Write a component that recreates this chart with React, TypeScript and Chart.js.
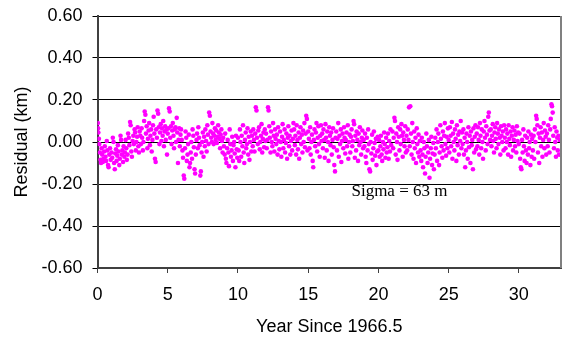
import { useEffect, useRef } from "react";
import { Chart, registerables } from "chart.js";

Chart.register(...registerables);

// Axis ticks and captions
const xTickValues = [0, 5, 10, 15, 20, 25, 30];
const yTickValues = [-0.6, -0.4, -0.2, 0, 0.2, 0.4, 0.6];
const xTitle = "Year Since 1966.5";
const yTitle = "Residual (km)";
const sigmaNote = "Sigma = 63 m";
const sigmaNoteAt = { x: 21.5, y: -0.238 };

// Observation epochs (years since 1966.5)
const sampleYears = [
  0.02, 0.04, 0.06, 0.1, 0.13, 0.17, 0.21, 0.25, 0.29, 0.33, 0.38, 0.42, 0.47, 0.52, 0.57, 0.61, 0.66, 0.7, 0.75, 0.79, 0.84, 0.89, 0.94,
  1, 1.05, 1.09, 1.14, 1.18, 1.23, 1.27, 1.32, 1.36, 1.41, 1.45, 1.5, 1.55, 1.59, 1.64, 1.68, 1.73, 1.77, 1.82, 1.86, 1.91, 1.95,
  2, 2.05, 2.09, 2.14, 2.18, 2.23, 2.27, 2.32, 2.36, 2.41, 2.45, 2.5, 2.55, 2.59, 2.64, 2.68, 2.73, 2.77, 2.82, 2.86, 2.91, 2.95,
  3, 3.05, 3.09, 3.14, 3.18, 3.23, 3.27, 3.32, 3.36, 3.41, 3.45, 3.5, 3.55, 3.59, 3.64, 3.68, 3.73, 3.77, 3.82, 3.86, 3.91, 3.95,
  4, 4.05, 4.09, 4.14, 4.18, 4.23, 4.27, 4.32, 4.36, 4.41, 4.45, 4.5, 4.55, 4.59, 4.64, 4.68, 4.73, 4.77, 4.82, 4.86, 4.91, 4.95,
  5, 5.05, 5.09, 5.14, 5.18, 5.23, 5.27, 5.32, 5.36, 5.41, 5.45, 5.5, 5.55, 5.59, 5.64, 5.68, 5.73, 5.77, 5.82, 5.86, 5.91, 5.95,
  6, 6.05, 6.09, 6.14, 6.18, 6.23, 6.27, 6.32, 6.36, 6.41, 6.45, 6.5, 6.55, 6.59, 6.64, 6.68, 6.73, 6.77, 6.82, 6.86, 6.91, 6.95,
  7, 7.05, 7.09, 7.14, 7.18, 7.23, 7.27, 7.32, 7.36, 7.41, 7.45, 7.5, 7.55, 7.59, 7.64, 7.68, 7.73, 7.77, 7.82, 7.86, 7.91, 7.95,
  8, 8.05, 8.09, 8.14, 8.18, 8.23, 8.27, 8.32, 8.36, 8.41, 8.45, 8.5, 8.55, 8.59, 8.64, 8.68, 8.73, 8.77, 8.82, 8.86, 8.91, 8.95,
  9, 9.05, 9.09, 9.14, 9.18, 9.23, 9.27, 9.32, 9.36, 9.41, 9.45, 9.5, 9.55, 9.59, 9.64, 9.68, 9.73, 9.77, 9.82, 9.86, 9.91, 9.95,
  10, 10.05, 10.09, 10.14, 10.18, 10.23, 10.27, 10.32, 10.36, 10.41, 10.45, 10.5, 10.55, 10.59, 10.64, 10.68, 10.73, 10.77, 10.82, 10.86, 10.91, 10.95,
  11, 11.05, 11.09, 11.14, 11.18, 11.23, 11.27, 11.32, 11.36, 11.41, 11.45, 11.5, 11.55, 11.59, 11.64, 11.68, 11.73, 11.77, 11.82, 11.86, 11.91, 11.95,
  12, 12.05, 12.09, 12.14, 12.18, 12.23, 12.27, 12.32, 12.36, 12.41, 12.45, 12.5, 12.55, 12.59, 12.64, 12.68, 12.73, 12.77, 12.82, 12.86, 12.91, 12.95,
  13, 13.05, 13.09, 13.14, 13.18, 13.23, 13.27, 13.32, 13.36, 13.41, 13.45, 13.5, 13.55, 13.59, 13.64, 13.68, 13.73, 13.77, 13.82, 13.86, 13.91, 13.95,
  14, 14.05, 14.09, 14.14, 14.18, 14.23, 14.27, 14.32, 14.36, 14.41, 14.45, 14.5, 14.55, 14.59, 14.64, 14.68, 14.73, 14.77, 14.82, 14.86, 14.91, 14.95,
  15, 15.05, 15.09, 15.14, 15.18, 15.23, 15.27, 15.32, 15.36, 15.41, 15.45, 15.5, 15.55, 15.59, 15.64, 15.68, 15.73, 15.77, 15.82, 15.86, 15.91, 15.95,
  16, 16.05, 16.09, 16.14, 16.18, 16.23, 16.27, 16.32, 16.36, 16.41, 16.45, 16.5, 16.55, 16.59, 16.64, 16.68, 16.73, 16.77, 16.82, 16.86, 16.91, 16.95,
  17, 17.05, 17.09, 17.14, 17.18, 17.23, 17.27, 17.32, 17.36, 17.41, 17.45, 17.5, 17.55, 17.59, 17.64, 17.68, 17.73, 17.77, 17.82, 17.86, 17.91, 17.95,
  18, 18.05, 18.09, 18.14, 18.18, 18.23, 18.27, 18.32, 18.36, 18.41, 18.45, 18.5, 18.55, 18.59, 18.64, 18.68, 18.73, 18.77, 18.82, 18.86, 18.91, 18.95,
  19, 19.05, 19.09, 19.14, 19.18, 19.23, 19.27, 19.32, 19.36, 19.41, 19.45, 19.5, 19.55, 19.59, 19.64, 19.68, 19.73, 19.77, 19.82, 19.86, 19.91, 19.95,
  20, 20.05, 20.09, 20.14, 20.18, 20.23, 20.27, 20.32, 20.36, 20.41, 20.45, 20.5, 20.55, 20.59, 20.64, 20.68, 20.73, 20.77, 20.82, 20.86, 20.91,
  21, 21.05, 21.09, 21.14, 21.18, 21.23, 21.27, 21.32, 21.36, 21.41, 21.45, 21.5, 21.55, 21.59, 21.64, 21.68, 21.73, 21.77, 21.82, 21.86, 21.91, 21.95,
  22, 22.05, 22.09, 22.14, 22.18, 22.23, 22.27, 22.32, 22.36, 22.41, 22.45, 22.5, 22.55, 22.59, 22.64, 22.68, 22.73, 22.77, 22.82, 22.86, 22.91, 22.95,
  23, 23.05, 23.09, 23.14, 23.18, 23.23, 23.27, 23.32, 23.36, 23.41, 23.45, 23.5, 23.55, 23.59, 23.64, 23.68, 23.73, 23.77, 23.82, 23.86, 23.91, 23.95,
  24, 24.05, 24.09, 24.14, 24.18, 24.23, 24.27, 24.32, 24.36, 24.41, 24.45, 24.5, 24.55, 24.59, 24.64, 24.68, 24.73, 24.77, 24.82, 24.86, 24.91, 24.95,
  25, 25.05, 25.09, 25.14, 25.18, 25.23, 25.27, 25.32, 25.36, 25.41, 25.45, 25.5, 25.55, 25.59, 25.64, 25.68, 25.73, 25.77, 25.82, 25.86, 25.91, 25.95,
  26, 26.05, 26.09, 26.14, 26.18, 26.23, 26.27, 26.32, 26.36, 26.41, 26.45, 26.5, 26.55, 26.59, 26.64, 26.68, 26.73, 26.77, 26.82, 26.86, 26.91, 26.95,
  27, 27.05, 27.09, 27.14, 27.18, 27.23, 27.27, 27.32, 27.36, 27.41, 27.45, 27.5, 27.55, 27.59, 27.64, 27.68, 27.73, 27.77, 27.82, 27.86, 27.91, 27.95,
  28, 28.05, 28.09, 28.14, 28.18, 28.23, 28.27, 28.32, 28.36, 28.41, 28.45, 28.5, 28.55, 28.59, 28.64, 28.68, 28.73, 28.77, 28.82, 28.86, 28.91, 28.95,
  29, 29.05, 29.09, 29.14, 29.18, 29.23, 29.27, 29.32, 29.36, 29.41, 29.45, 29.5, 29.55, 29.59, 29.64, 29.68, 29.73, 29.77, 29.82, 29.86, 29.91, 29.95,
  30, 30.05, 30.09, 30.14, 30.18, 30.23, 30.27, 30.32, 30.36, 30.41, 30.45, 30.5, 30.55, 30.59, 30.64, 30.68, 30.73, 30.77, 30.82, 30.86, 30.91, 30.95,
  31, 31.05, 31.09, 31.14, 31.18, 31.23, 31.27, 31.32, 31.36, 31.41, 31.45, 31.5, 31.55, 31.59, 31.64, 31.68, 31.73, 31.77, 31.82, 31.86, 31.91, 31.95,
  32, 32.05, 32.09, 32.14, 32.18, 32.23, 32.27, 32.32, 32.36, 32.41, 32.45, 32.5, 32.55, 32.59, 32.64, 32.68, 32.73, 32.77, 32.82, 32.86, 32.91,
];

// Residual at each epoch, in km
const residualsKm = [
  0.09, 0.065, 0.045, 0.015, -0.01, -0.05, -0.085, -0.1, -0.03, -0.06, -0.095, -0.08, -0.045, -0.02, -0.07, -0.09, 0.005, -0.04, -0.11, -0.12, -0.06, -0.03, -0.085,
  -0.05, -0.075, 0.02, 0.0, -0.1, -0.13, -0.055, -0.035, -0.09, -0.065, -0.015, -0.045, -0.11, -0.08, 0.03, 0.01, -0.06, -0.04, -0.095, -0.02, -0.07, -0.05,
  0.01, -0.03, -0.085, -0.06, 0.04, 0.02, -0.015, 0.095, 0.08, -0.045, -0.07, 0.005, 0.03, -0.01, 0.06, 0.045, -0.04, 0.0, 0.025, 0.07, -0.02, -0.05,
  0.05, 0.03, -0.01, 0.065, 0.02, -0.04, 0.0, 0.1, 0.145, 0.13, 0.04, 0.075, -0.03, 0.015, 0.055, 0.09, -0.015, 0.03, 0.06, -0.045, 0.01, 0.08,
  0.12, 0.04, -0.08, -0.095, 0.06, 0.02, 0.15, 0.135, 0.07, -0.01, 0.045, 0.085, 0.005, 0.065, 0.03, 0.1, -0.02, 0.05, 0.075, 0.01, 0.06, -0.06,
  0.04, 0.065, 0.16, 0.145, 0.02, 0.075, -0.01, 0.055, 0.09, 0.03, -0.03, 0.06, 0.07, 0.0, 0.115, 0.045, -0.1, 0.01, 0.065, -0.02, 0.035, 0.06,
  0.01, -0.04, -0.075, -0.16, -0.175, -0.03, 0.05, 0.02, -0.09, -0.06, -0.01, 0.035, -0.12, -0.1, -0.05, 0.0, -0.08, 0.06, 0.03, -0.025, -0.13, -0.15,
  -0.06, 0.01, 0.04, -0.03, 0.07, 0.02, -0.015, -0.16, -0.14, -0.05, 0.0, 0.045, -0.07, 0.025, -0.02, 0.06, 0.005, -0.045, 0.08, 0.035, -0.01, 0.14,
  0.125, 0.05, 0.02, 0.0, 0.09, 0.04, -0.01, 0.03, 0.065, 0.01, 0.055, -0.005, 0.025, 0.08, 0.045, 0.015, -0.03, 0.035, 0.06, 0.005, -0.05, 0.02,
  -0.02, -0.06, 0.04, -0.08, -0.1, -0.03, 0.01, -0.05, -0.115, 0.06, -0.01, -0.07, -0.04, 0.025, -0.09, -0.015, 0.0, -0.055, -0.12, 0.03, -0.035, -0.075,
  0.02, -0.04, -0.09, 0.06, 0.0, -0.07, 0.03, -0.02, 0.08, -0.05, -0.1, 0.01, 0.045, -0.03, -0.01, 0.065, -0.06, 0.025, -0.085, 0.0, 0.05, -0.045,
  0.03, -0.02, 0.06, 0.01, -0.045, 0.04, 0.165, 0.15, 0.02, -0.01, 0.055, 0.07, -0.035, 0.0, 0.03, 0.085, -0.05, 0.015, 0.045, -0.025, 0.06, 0.005,
  0.04, -0.03, 0.01, 0.165, 0.15, 0.075, 0.02, -0.05, 0.05, 0.0, -0.02, 0.09, 0.03, -0.045, 0.06, 0.015, -0.01, 0.035, -0.06, 0.07, 0.005, -0.035,
  0.05, 0.0, -0.07, 0.025, 0.085, -0.03, 0.01, 0.06, -0.05, -0.005, 0.04, -0.08, 0.02, 0.075, -0.02, 0.03, -0.06, 0.005, 0.055, -0.04, 0.015, 0.09,
  0.06, -0.015, 0.03, -0.06, 0.08, 0.01, -0.035, 0.045, -0.08, 0.02, 0.07, -0.01, 0.035, -0.05, 0.055, 0.0, 0.09, -0.025, 0.04, 0.125, 0.11, -0.04,
  0.05, 0.015, -0.03, 0.07, -0.06, 0.0, 0.035, -0.09, -0.12, 0.01, 0.06, -0.02, 0.045, 0.09, -0.045, 0.02, 0.075, -0.01, -0.07, 0.03, 0.08, 0.005,
  0.04, -0.03, 0.06, 0.01, -0.075, 0.085, 0.02, -0.04, 0.05, 0.0, -0.09, 0.07, 0.03, -0.015, 0.045, -0.06, 0.01, 0.065, -0.025, -0.11, -0.14, 0.02,
  0.05, -0.04, 0.015, 0.09, -0.07, 0.03, -0.01, 0.06, -0.095, 0.005, 0.04, -0.03, 0.07, 0.02, -0.055, 0.01, 0.045, -0.02, 0.08, -0.08, 0.0, 0.035,
  -0.05, 0.025, 0.06, -0.02, 0.005, 0.1, 0.085, -0.075, 0.03, -0.04, 0.05, 0.01, -0.09, 0.04, -0.015, 0.07, 0.0, -0.06, 0.02, 0.055, -0.03, 0.01,
  -0.02, 0.04, -0.07, -0.1, 0.02, -0.04, 0.06, -0.01, -0.13, -0.14, 0.0, -0.055, 0.035, -0.085, -0.03, 0.05, -0.005, -0.065, 0.015, -0.11, -0.045, 0.025,
  -0.04, 0.01, -0.07, -0.02, 0.03, -0.06, -0.09, 0.0, -0.035, 0.045, -0.01, -0.075, 0.02, -0.05, -0.025, 0.04, -0.08, 0.005, -0.045, 0.06, -0.015,
  0.05, -0.03, 0.02, 0.115, 0.1, -0.06, 0.04, 0.0, -0.085, 0.07, 0.025, -0.04, 0.06, -0.01, 0.085, 0.03, -0.07, 0.045, 0.01, -0.02, 0.075, -0.05,
  0.03, -0.04, 0.06, 0.01, 0.165, -0.02, 0.17, 0.04, -0.06, 0.09, 0.0, -0.08, 0.05, -0.03, 0.02, -0.1, 0.065, -0.01, -0.05, 0.035, -0.07, 0.005,
  -0.04, -0.09, 0.02, -0.06, -0.12, 0.0, -0.03, -0.15, -0.07, 0.04, -0.02, -0.1, -0.05, 0.01, -0.17, -0.08, -0.03, 0.025, -0.11, -0.055, -0.005, -0.13,
  -0.06, 0.02, -0.03, 0.06, -0.09, 0.0, 0.04, -0.11, -0.05, 0.08, 0.015, -0.02, -0.075, 0.05, -0.04, 0.03, 0.09, -0.01, -0.065, 0.025, -0.03, 0.065,
  0.01, -0.05, 0.07, 0.03, -0.02, 0.095, -0.08, 0.04, 0.0, -0.04, 0.06, 0.015, -0.09, 0.08, -0.015, 0.035, -0.06, 0.05, 0.005, 0.1, -0.03, 0.045,
  -0.01, 0.06, -0.06, 0.02, -0.12, -0.04, 0.04, 0.0, -0.08, 0.07, -0.025, 0.03, -0.1, 0.05, -0.015, 0.01, -0.13, 0.065, -0.05, 0.025, 0.08, -0.035,
  0.04, -0.02, 0.07, 0.01, -0.06, 0.09, 0.03, -0.03, 0.06, 0.0, -0.08, 0.05, 0.1, 0.02, -0.04, 0.075, 0.035, -0.01, 0.12, 0.14, 0.055, 0.01,
  0.06, -0.02, 0.03, 0.085, 0.005, -0.05, 0.045, 0.07, 0.015, -0.03, 0.09, 0.04, -0.01, 0.06, 0.02, -0.06, 0.075, 0.03, 0.0, 0.05, -0.04, 0.08,
  0.02, -0.03, 0.06, 0.0, 0.04, -0.06, 0.08, 0.015, -0.015, 0.05, -0.07, 0.03, 0.07, -0.04, 0.01, 0.055, -0.02, 0.035, -0.05, 0.075, 0.005, 0.045,
  -0.01, 0.04, -0.08, -0.12, -0.13, 0.01, -0.05, 0.06, -0.02, -0.09, 0.03, -0.04, -0.1, 0.02, -0.06, 0.05, -0.03, 0.0, -0.11, 0.035, -0.07, 0.015,
  -0.04, 0.03, -0.08, 0.06, 0.0, 0.125, 0.11, 0.08, -0.05, 0.04, -0.1, 0.02, 0.07, -0.02, 0.045, -0.07, 0.01, 0.09, -0.03, 0.055, 0.025, -0.06,
  0.04, -0.02, 0.08, 0.01, -0.05, 0.06, 0.11, 0.18, 0.17, 0.14, 0.03, -0.03, 0.07, 0.0, -0.07, 0.05, 0.02, -0.04, 0.03, -0.06, 0.01,
];

const sansFont = { family: '"Liberation Sans", Arial, sans-serif', size: 18 };

// Right-hand frame edge of the plot
const frameEdge = {
  id: "frameEdge",
  afterDraw(chart: any) {
    const { ctx, chartArea } = chart;
    ctx.save();
    ctx.strokeStyle = "#808080";
    ctx.lineWidth = 2;
    ctx.beginPath();
    ctx.moveTo(chartArea.right, chartArea.top);
    ctx.lineTo(chartArea.right, chartArea.bottom);
    ctx.stroke();
    ctx.restore();
  },
};

// "Sigma = 63 m" note, placed in data coordinates
const sigmaLabel = {
  id: "sigmaLabel",
  afterDatasetsDraw(chart: any) {
    const { ctx, scales } = chart;
    ctx.save();
    ctx.font = '17px "Liberation Serif", "Times New Roman", serif';
    ctx.fillStyle = "#000";
    ctx.textAlign = "center";
    ctx.textBaseline = "middle";
    ctx.fillText(
      sigmaNote,
      scales.x.getPixelForValue(sigmaNoteAt.x),
      scales.y.getPixelForValue(sigmaNoteAt.y)
    );
    ctx.restore();
  },
};

export default function App() {
  const canvasRef = useRef<HTMLCanvasElement | null>(null);

  useEffect(() => {
    const canvas = canvasRef.current;
    if (!canvas) return;
    const points = sampleYears.map((x, i) => ({ x, y: residualsKm[i] }));
    const chart = new Chart(canvas, {
      type: "scatter",
      data: {
        datasets: [
          {
            data: points,
            backgroundColor: "#ff00ff",
            borderWidth: 0,
            pointRadius: 2.3,
            pointHoverRadius: 2.3,
          },
        ],
      },
      options: {
        responsive: false,
        animation: false,
        devicePixelRatio: 1,
        layout: { padding: { top: 16, right: 3, left: 0, bottom: 0 } },
        plugins: { legend: { display: false }, tooltip: { enabled: false } },
        scales: {
          x: {
            type: "linear",
            min: 0,
            max: 33,
            afterBuildTicks: (s: any) => {
              s.ticks = xTickValues.map((value) => ({ value }));
            },
            afterFit: (s: any) => {
              s.height = 71;
              s.paddingLeft = 0;
              s.paddingRight = 0;
            },
            ticks: {
              font: sansFont,
              color: "#000",
              padding: 11,
              maxRotation: 0,
              callback: (v: any) => String(v),
            },
            grid: { drawOnChartArea: false, tickLength: 5, color: "#404040" },
            border: { color: "#404040", width: 2 },
            title: {
              display: true,
              text: xTitle,
              font: sansFont,
              color: "#000",
              padding: { top: 0, bottom: 1 },
            },
          },
          y: {
            type: "linear",
            min: -0.6,
            max: 0.6,
            afterBuildTicks: (s: any) => {
              s.ticks = yTickValues.map((value) => ({ value }));
            },
            afterFit: (s: any) => {
              s.width = 97.5;
              s.paddingTop = 0;
              s.paddingBottom = 0;
            },
            ticks: {
              font: sansFont,
              color: "#000",
              padding: 10,
              callback: (v: any) => Number(v).toFixed(2),
            },
            grid: { color: "#000", lineWidth: 1, tickLength: 5 },
            border: { color: "#404040", width: 2 },
            title: {
              display: true,
              text: yTitle,
              font: sansFont,
              color: "#000",
              padding: { top: 11, bottom: 0 },
            },
          },
        },
      },
      plugins: [frameEdge, sigmaLabel],
    });
    return () => chart.destroy();
  }, []);

  return (
    <div style={{ position: "fixed", left: 0, top: 0, width: 564, height: 339, background: "#fff" }}>
      <canvas ref={canvasRef} width={564} height={339} style={{ display: "block" }} />
    </div>
  );
}
